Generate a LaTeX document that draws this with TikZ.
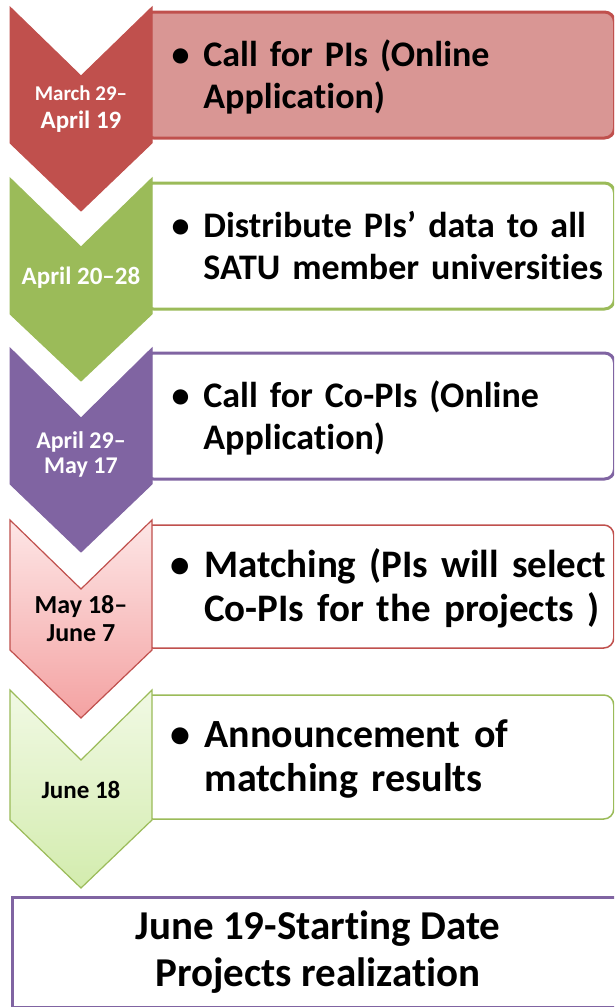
\documentclass[tikz,border=0pt]{standalone}
\usepackage{fontspec}
\setmainfont{Carlito}[Ligatures=NoCommon]
\definecolor{accred}{HTML}{C0504D}
\definecolor{accredlight}{HTML}{D99694}
\definecolor{accgreen}{HTML}{9BBB59}
\definecolor{accpurple}{HTML}{8064A2}
\definecolor{pinktop}{HTML}{FDE6E6}
\definecolor{pinkbot}{HTML}{F4A2A2}
\definecolor{limetop}{HTML}{F1F9E4}
\definecolor{limebot}{HTML}{D3ECAE}
\newcommand{\stagetext}[2]{\raisebox{-4pt}[\height][\depth]{\begin{tabular}{@{}l@{\hspace{14pt}}l@{}}\textbullet & #1\\ & #2\end{tabular}}}

\begin{document}
\begin{tikzpicture}[x=1pt,y=-1pt,
    stage/.style={draw=#1,line width=3pt,rounded corners=10pt,anchor=west,
      minimum height=126pt,text width=415pt,inner xsep=28pt,align=left,
      font=\fontsize{36}{42}\selectfont\bfseries},
    chev/.style={draw=#1,fill=#1,line width=1pt},
    datetext/.style={text=#1,align=center,font=\fontsize{25}{28}\selectfont\bfseries}]
  \useasboundingbox (0,0) rectangle (614,1007);
  \clip (0,0) rectangle (614,1007);
  \fill[white] (0,0) rectangle (614,1007);

  % step boxes, the chevrons go on top of their left ends
  \node[stage=accred,fill=accredlight] (callpi) at (142,75) {\stagetext{Call for PIs (Online}{Application)}};
  \node[stage=accgreen] (distrib) at (142,246) {\stagetext{Distribute PIs’ data to all}{SATU member universities}};
  \node[stage=accpurple] (callcopi) at (142,416) {\stagetext{Call for Co-PIs (Online}{Application)}};
  \node[stage=accred,line width=1.5pt,minimum height=123pt,font=\fontsize{39}{44}\selectfont\bfseries] (matching) at (142,586.5) {\stagetext{Matching (PIs will select}{Co-PIs for the projects )}};
  \node[stage=accgreen,line width=1.5pt,minimum height=124pt,font=\fontsize{40}{44}\selectfont\bfseries] (announce) at (142,757) {\stagetext{Announcement of}{matching results}};

  % chevrons
  \path[chev=accred] (10,7) -- (81,76) -- (152,7) -- (152,143) -- (81,211) -- (10,143) -- cycle;
  \path[chev=accgreen] (10,178) -- (81,247) -- (152,178) -- (152,314) -- (81,381) -- (10,314) -- cycle;
  \path[chev=accpurple] (10,348) -- (81,418) -- (152,348) -- (152,484) -- (81,552) -- (10,484) -- cycle;
  \path[draw=accred,line width=1.2pt,top color=pinktop,bottom color=pinkbot]
    (10,520) -- (81,589) -- (152,520) -- (152,650) -- (81,718) -- (10,650) -- cycle;
  \path[draw=accgreen,line width=1.2pt,top color=limetop,bottom color=limebot]
    (10,690) -- (81,760) -- (152,690) -- (152,820) -- (81,888) -- (10,820) -- cycle;

  % dates
  \node[datetext=white] (d1) at (81,109) {{\fontsize{21}{28}\selectfont March 29–}\\April 19};
  \node[datetext=white] (d2) at (81,278) {April 20–28};
  \node[datetext=white,font=\fontsize{24}{25}\selectfont\bfseries] (d3) at (81,454) {April 29–\\May 17};
  \node[datetext=black,font=\fontsize{26}{28}\selectfont\bfseries] (d4) at (81,619) {May 18–\\June 7};
  \node[datetext=black] (d5) at (81,790) {June 18};

  % last step
  \node[draw=accpurple,line width=3pt,minimum width=612pt,minimum height=110pt,align=center,
    font=\fontsize{41}{47}\selectfont\bfseries] (start) at (318,952) {June 19-Starting Date\\Projects realization};
\end{tikzpicture}
\end{document}
